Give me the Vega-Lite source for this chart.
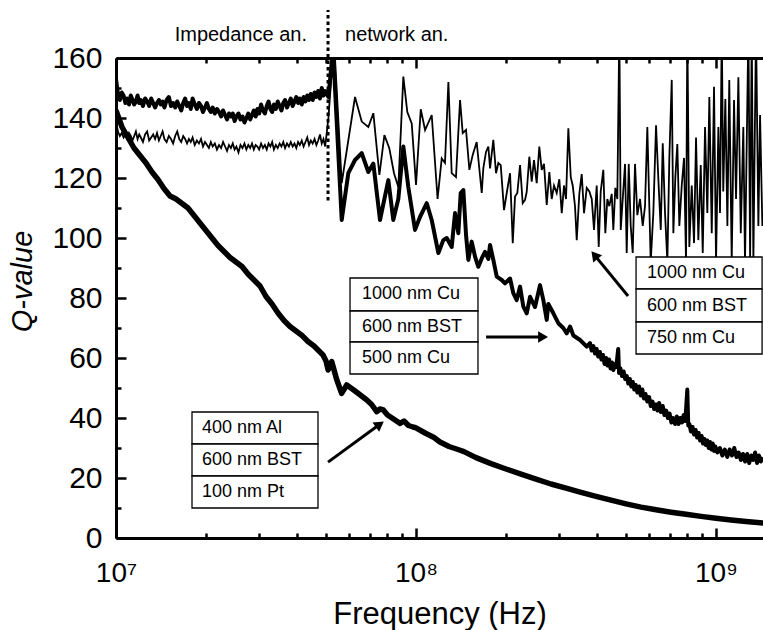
{
  "$schema": "https://vega.github.io/schema/vega-lite/v6.json",
  "width": 647,
  "height": 480,
  "autosize": "none",
  "padding": {"left": 116, "top": 58, "right": 0, "bottom": 92},
  "config": {
    "view": {"stroke": null},
    "font": "Liberation Sans",
    "axis": {"grid": false, "domainColor": "#000", "domainWidth": 3, "tickColor": "#000", "tickWidth": 2.5, "labelColor": "#000", "labelFont": "Liberation Sans", "labelFontWeight": "normal", "titleFont": "Liberation Sans", "titleFontWeight": "normal", "titleColor": "#000", "labelOverlap": false, "labelFlush": false, "labelBound": false}
  },
  "datasets": {
    "A": [
      {"f":1e7,"q":142.5},{"f":1.047e7,"q":137},{"f":1.096e7,"q":133.5},{"f":1.148e7,"q":130},{"f":1.202e7,"q":127.5},{"f":1.259e7,"q":125},{"f":1.318e7,"q":122},{"f":1.380e7,"q":119.5},{"f":1.445e7,"q":116.5},{"f":1.514e7,"q":114},{"f":1.585e7,"q":113},{"f":1.660e7,"q":111.5},{"f":1.738e7,"q":110},{"f":1.820e7,"q":107.5},{"f":1.905e7,"q":105},{"f":1.995e7,"q":102.5},{"f":2.089e7,"q":100},{"f":2.188e7,"q":97.5},{"f":2.291e7,"q":95.5},{"f":2.399e7,"q":93.5},{"f":2.512e7,"q":92},{"f":2.630e7,"q":90.5},{"f":2.754e7,"q":88},{"f":2.884e7,"q":86},{"f":3.020e7,"q":84},{"f":3.162e7,"q":80.5},{"f":3.311e7,"q":78},{"f":3.467e7,"q":75},{"f":3.631e7,"q":72.5},{"f":3.802e7,"q":70.5},{"f":3.981e7,"q":69},{"f":4.169e7,"q":67.5},{"f":4.365e7,"q":65.5},{"f":4.571e7,"q":64},{"f":4.786e7,"q":62},{"f":4.898e7,"q":61},{"f":5.012e7,"q":59},{"f":5.093e7,"q":56},{"f":5.236e7,"q":58.8},{"f":5.433e7,"q":53},{"f":5.649e7,"q":48.2},{"f":5.875e7,"q":51},{"f":6.166e7,"q":49.5},{"f":6.457e7,"q":48},{"f":6.855e7,"q":46},{"f":7.112e7,"q":44.5},{"f":7.396e7,"q":42.1},{"f":7.586e7,"q":43},{"f":7.780e7,"q":42.7},{"f":8.035e7,"q":41},{"f":8.318e7,"q":40},{"f":8.610e7,"q":39},{"f":8.851e7,"q":38.2},{"f":9.120e7,"q":39},{"f":9.441e7,"q":37.5},{"f":9.772e7,"q":37},{"f":1e8,"q":36.7},{"f":1.072e8,"q":35},{"f":1.148e8,"q":33.5},{"f":1.202e8,"q":32},{"f":1.288e8,"q":30.5},{"f":1.380e8,"q":29.5},{"f":1.445e8,"q":28.8},{"f":1.585e8,"q":26.8},{"f":1.778e8,"q":24.8},{"f":1.995e8,"q":23},{"f":2.239e8,"q":21.3},{"f":2.512e8,"q":19.6},{"f":2.818e8,"q":18},{"f":3.162e8,"q":16.6},{"f":3.548e8,"q":15.2},{"f":3.981e8,"q":13.9},{"f":4.467e8,"q":12.6},{"f":5.012e8,"q":11.4},{"f":5.623e8,"q":10.3},{"f":6.310e8,"q":9.4},{"f":7.079e8,"q":8.6},{"f":7.943e8,"q":7.9},{"f":8.913e8,"q":7.2},{"f":1e9,"q":6.6},{"f":1.122e9,"q":6.0},{"f":1.259e9,"q":5.5},{"f":1.445e9,"q":5.0}
    ],
    "B": [
      {"f":1.00e7,"q":153},{"f":1.015e7,"q":148},{"f":1.03e7,"q":146},{"f":1.045e7,"q":148.5},{"f":1.06e7,"q":147.5},{"f":1.075e7,"q":145},{"f":1.09e7,"q":146.5},{"f":1.105e7,"q":144.5},{"f":1.12e7,"q":147.5},{"f":1.135e7,"q":146},{"f":1.15e7,"q":144.5},{"f":1.165e7,"q":145.5},{"f":1.18e7,"q":147.5},{"f":1.195e7,"q":145},{"f":1.21e7,"q":146},{"f":1.23e7,"q":144},{"f":1.25e7,"q":146.5},{"f":1.27e7,"q":145.5},{"f":1.29e7,"q":144},{"f":1.31e7,"q":146.5},{"f":1.33e7,"q":145},{"f":1.35e7,"q":143.5},{"f":1.37e7,"q":145},{"f":1.39e7,"q":146},{"f":1.41e7,"q":144.5},{"f":1.43e7,"q":145.5},{"f":1.45e7,"q":143.5},{"f":1.475e7,"q":146},{"f":1.50e7,"q":147},{"f":1.525e7,"q":144},{"f":1.55e7,"q":145},{"f":1.575e7,"q":143.5},{"f":1.60e7,"q":145.5},{"f":1.625e7,"q":144},{"f":1.65e7,"q":142.5},{"f":1.675e7,"q":145},{"f":1.70e7,"q":146.5},{"f":1.725e7,"q":144},{"f":1.75e7,"q":145},{"f":1.775e7,"q":143},{"f":1.80e7,"q":146.5},{"f":1.83e7,"q":144.5},{"f":1.86e7,"q":143},{"f":1.89e7,"q":145},{"f":1.92e7,"q":144},{"f":1.95e7,"q":142},{"f":1.98e7,"q":143.5},{"f":2.01e7,"q":145},{"f":2.04e7,"q":143},{"f":2.07e7,"q":142},{"f":2.10e7,"q":143.5},{"f":2.135e7,"q":141.5},{"f":2.17e7,"q":143},{"f":2.205e7,"q":142},{"f":2.24e7,"q":140.5},{"f":2.275e7,"q":142.5},{"f":2.31e7,"q":141},{"f":2.345e7,"q":139.5},{"f":2.38e7,"q":141.5},{"f":2.415e7,"q":140.5},{"f":2.45e7,"q":141.5},{"f":2.485e7,"q":139},{"f":2.52e7,"q":140.5},{"f":2.56e7,"q":141.5},{"f":2.60e7,"q":139.5},{"f":2.64e7,"q":140.5},{"f":2.68e7,"q":138.5},{"f":2.72e7,"q":140},{"f":2.76e7,"q":141.5},{"f":2.80e7,"q":139.5},{"f":2.84e7,"q":141},{"f":2.88e7,"q":142.5},{"f":2.92e7,"q":140.5},{"f":2.96e7,"q":143},{"f":3.00e7,"q":141.5},{"f":3.045e7,"q":144.5},{"f":3.09e7,"q":142.5},{"f":3.135e7,"q":141.5},{"f":3.18e7,"q":144},{"f":3.225e7,"q":145.5},{"f":3.27e7,"q":143},{"f":3.315e7,"q":142},{"f":3.36e7,"q":144.5},{"f":3.41e7,"q":143},{"f":3.46e7,"q":145.5},{"f":3.51e7,"q":144},{"f":3.56e7,"q":142.5},{"f":3.61e7,"q":145},{"f":3.66e7,"q":146},{"f":3.715e7,"q":143.5},{"f":3.77e7,"q":145},{"f":3.825e7,"q":146.5},{"f":3.88e7,"q":144},{"f":3.935e7,"q":145.5},{"f":3.99e7,"q":147},{"f":4.045e7,"q":145},{"f":4.10e7,"q":146.5},{"f":4.16e7,"q":144.5},{"f":4.22e7,"q":147},{"f":4.28e7,"q":145.5},{"f":4.34e7,"q":147.5},{"f":4.40e7,"q":146},{"f":4.46e7,"q":148},{"f":4.525e7,"q":146},{"f":4.59e7,"q":148.5},{"f":4.655e7,"q":147},{"f":4.72e7,"q":149},{"f":4.785e7,"q":146.5},{"f":4.85e7,"q":150},{"f":4.915e7,"q":147.5},{"f":4.98e7,"q":149},
      {"f":5.105e7,"q":147},{"f":5.288e7,"q":163},{"f":5.654e7,"q":106},{"f":5.947e7,"q":121.6},{"f":6.261e7,"q":126},{"f":6.592e7,"q":128.3},{"f":6.935e7,"q":122},{"f":7.207e7,"q":124.8},{"f":7.586e7,"q":106},{"f":8.086e7,"q":119.3},{"f":8.40e7,"q":106},{"f":8.73e7,"q":113},{"f":9.072e7,"q":130.5},{"f":9.426e7,"q":117},{"f":9.924e7,"q":102.7},{"f":1.031e8,"q":107},{"f":1.086e8,"q":111.6},{"f":1.128e8,"q":106},{"f":1.187e8,"q":95},{"f":1.233e8,"q":99.3},{"f":1.266e8,"q":100},{"f":1.315e8,"q":97},{"f":1.349e8,"q":108.3},{"f":1.384e8,"q":101.6},{"f":1.409e8,"q":115},{"f":1.438e8,"q":116},{"f":1.468e8,"q":101},{"f":1.494e8,"q":92.7},{"f":1.533e8,"q":98.8},{"f":1.573e8,"q":93.8},{"f":1.613e8,"q":90.4},{"f":1.656e8,"q":93.2},{"f":1.698e8,"q":95.4},{"f":1.742e8,"q":93},{"f":1.765e8,"q":97.7},{"f":1.810e8,"q":92.7},{"f":1.858e8,"q":87.1},{"f":1.931e8,"q":86},{"f":1.980e8,"q":84.9},{"f":2.058e8,"q":86.5},{"f":2.110e8,"q":81.6},{"f":2.166e8,"q":79.3},{"f":2.222e8,"q":83.8},{"f":2.279e8,"q":77.1},{"f":2.339e8,"q":74.9},{"f":2.399e8,"q":80.4},{"f":2.493e8,"q":77},{"f":2.590e8,"q":84.3},{"f":2.657e8,"q":79.3},{"f":2.727e8,"q":72.7},{"f":2.761e8,"q":78},{"f":2.869e8,"q":74.9},{"f":2.981e8,"q":71.6},{"f":3.097e8,"q":70},{"f":3.179e8,"q":68.2},{"f":3.261e8,"q":70.5},{"f":3.345e8,"q":67.5},{"f":3.522e8,"q":66},{"f":3.707e8,"q":63.8},
      {"f":3.80e8,"q":65},{"f":3.85e8,"q":62.5},{"f":3.90e8,"q":64},{"f":3.95e8,"q":61.5},{"f":4.00e8,"q":63},{"f":4.05e8,"q":60.5},{"f":4.10e8,"q":62},{"f":4.15e8,"q":59.5},{"f":4.20e8,"q":61},{"f":4.25e8,"q":58},{"f":4.30e8,"q":60},{"f":4.35e8,"q":57.5},{"f":4.40e8,"q":59.5},{"f":4.45e8,"q":56.5},{"f":4.50e8,"q":58.5},{"f":4.55e8,"q":56},{"f":4.60e8,"q":58},{"f":4.65e8,"q":57},{"f":4.72e8,"q":63},{"f":4.75e8,"q":55},{"f":4.80e8,"q":56.5},{"f":4.86e8,"q":54},{"f":4.92e8,"q":55.5},{"f":4.98e8,"q":53},{"f":5.04e8,"q":54},{"f":5.10e8,"q":51.5},{"f":5.16e8,"q":53},{"f":5.22e8,"q":50.5},{"f":5.28e8,"q":52},{"f":5.34e8,"q":49.5},{"f":5.40e8,"q":51},{"f":5.47e8,"q":48.5},{"f":5.54e8,"q":50.5},{"f":5.61e8,"q":47.5},{"f":5.68e8,"q":49.5},{"f":5.75e8,"q":46.5},{"f":5.82e8,"q":48},{"f":5.90e8,"q":45.5},{"f":5.98e8,"q":47},{"f":6.06e8,"q":44},{"f":6.14e8,"q":45.5},{"f":6.22e8,"q":43},{"f":6.30e8,"q":44.5},{"f":6.38e8,"q":42.5},{"f":6.46e8,"q":45},{"f":6.55e8,"q":42},{"f":6.64e8,"q":44},{"f":6.73e8,"q":41},{"f":6.82e8,"q":42.5},{"f":6.91e8,"q":40},{"f":7.00e8,"q":41.5},{"f":7.10e8,"q":38.5},{"f":7.20e8,"q":40},{"f":7.30e8,"q":38},{"f":7.40e8,"q":40.5},{"f":7.50e8,"q":38},{"f":7.60e8,"q":40},{"f":7.70e8,"q":38.5},{"f":7.80e8,"q":41},{"f":7.90e8,"q":39},{"f":8.02e8,"q":49.5},{"f":8.08e8,"q":37.5},{"f":8.15e8,"q":38},{"f":8.25e8,"q":35.5},{"f":8.35e8,"q":37},{"f":8.45e8,"q":34.5},{"f":8.55e8,"q":36},{"f":8.65e8,"q":33.5},{"f":8.75e8,"q":35},{"f":8.85e8,"q":32.5},{"f":8.95e8,"q":34},{"f":9.05e8,"q":31.5},{"f":9.15e8,"q":33},{"f":9.25e8,"q":31},{"f":9.35e8,"q":32.5},{"f":9.45e8,"q":30},{"f":9.55e8,"q":32},{"f":9.65e8,"q":29.5},{"f":9.75e8,"q":31.5},{"f":9.85e8,"q":29},{"f":9.95e8,"q":30.5},{"f":1.01e9,"q":28.5},{"f":1.03e9,"q":30},{"f":1.05e9,"q":27.5},{"f":1.07e9,"q":29.5},{"f":1.09e9,"q":27},{"f":1.11e9,"q":29.5},{"f":1.13e9,"q":27.5},{"f":1.15e9,"q":30},{"f":1.17e9,"q":27},{"f":1.19e9,"q":28.5},{"f":1.21e9,"q":26},{"f":1.23e9,"q":28},{"f":1.25e9,"q":25.5},{"f":1.27e9,"q":28},{"f":1.29e9,"q":25},{"f":1.31e9,"q":27.5},{"f":1.33e9,"q":26},{"f":1.35e9,"q":28.5},{"f":1.37e9,"q":25},{"f":1.39e9,"q":27.5},{"f":1.41e9,"q":25.5},{"f":1.43e9,"q":27}
    ],
    "C": [
      {"f":1.00e7,"q":139},{"f":1.015e7,"q":135.5},{"f":1.03e7,"q":134},{"f":1.045e7,"q":135},{"f":1.06e7,"q":133.5},{"f":1.075e7,"q":134.5},{"f":1.09e7,"q":133},{"f":1.105e7,"q":135},{"f":1.12e7,"q":134},{"f":1.135e7,"q":132.5},{"f":1.15e7,"q":134},{"f":1.165e7,"q":135.5},{"f":1.18e7,"q":133},{"f":1.195e7,"q":134.5},{"f":1.21e7,"q":133.5},{"f":1.23e7,"q":132},{"f":1.25e7,"q":134.5},{"f":1.27e7,"q":135.5},{"f":1.29e7,"q":132.5},{"f":1.31e7,"q":133.5},{"f":1.33e7,"q":134.5},{"f":1.35e7,"q":133},{"f":1.37e7,"q":135},{"f":1.39e7,"q":132.5},{"f":1.41e7,"q":134},{"f":1.43e7,"q":135.5},{"f":1.45e7,"q":133},{"f":1.475e7,"q":132},{"f":1.50e7,"q":134},{"f":1.525e7,"q":133},{"f":1.55e7,"q":131.5},{"f":1.575e7,"q":134},{"f":1.60e7,"q":135.5},{"f":1.625e7,"q":133},{"f":1.65e7,"q":132},{"f":1.675e7,"q":134},{"f":1.70e7,"q":133},{"f":1.725e7,"q":131.5},{"f":1.75e7,"q":133},{"f":1.775e7,"q":132},{"f":1.80e7,"q":133.5},{"f":1.83e7,"q":131},{"f":1.86e7,"q":132.5},{"f":1.89e7,"q":131.5},{"f":1.92e7,"q":133},{"f":1.95e7,"q":130.5},{"f":1.98e7,"q":132},{"f":2.01e7,"q":131},{"f":2.04e7,"q":130},{"f":2.07e7,"q":132},{"f":2.10e7,"q":130.5},{"f":2.135e7,"q":131.5},{"f":2.17e7,"q":129.5},{"f":2.205e7,"q":131},{"f":2.24e7,"q":130},{"f":2.275e7,"q":132},{"f":2.31e7,"q":130.5},{"f":2.345e7,"q":129},{"f":2.38e7,"q":131},{"f":2.415e7,"q":130},{"f":2.45e7,"q":131.5},{"f":2.485e7,"q":129.5},{"f":2.52e7,"q":130.5},{"f":2.56e7,"q":128.5},{"f":2.60e7,"q":131},{"f":2.64e7,"q":130},{"f":2.68e7,"q":131.5},{"f":2.72e7,"q":129.5},{"f":2.76e7,"q":131},{"f":2.80e7,"q":130},{"f":2.84e7,"q":131.5},{"f":2.88e7,"q":129.5},{"f":2.92e7,"q":131},{"f":2.96e7,"q":130.5},{"f":3.00e7,"q":129.5},{"f":3.045e7,"q":131.5},{"f":3.09e7,"q":130},{"f":3.135e7,"q":131},{"f":3.18e7,"q":129.5},{"f":3.225e7,"q":131.5},{"f":3.27e7,"q":130.5},{"f":3.315e7,"q":132},{"f":3.36e7,"q":129.5},{"f":3.41e7,"q":131},{"f":3.46e7,"q":130},{"f":3.51e7,"q":131.5},{"f":3.56e7,"q":130.5},{"f":3.61e7,"q":132},{"f":3.66e7,"q":130},{"f":3.715e7,"q":131.5},{"f":3.77e7,"q":130.5},{"f":3.825e7,"q":132},{"f":3.88e7,"q":130.5},{"f":3.935e7,"q":131.5},{"f":3.99e7,"q":130},{"f":4.045e7,"q":132},{"f":4.10e7,"q":131},{"f":4.16e7,"q":132.5},{"f":4.22e7,"q":130.5},{"f":4.28e7,"q":132},{"f":4.34e7,"q":133.5},{"f":4.40e7,"q":131},{"f":4.46e7,"q":132.5},{"f":4.525e7,"q":131.5},{"f":4.59e7,"q":133},{"f":4.655e7,"q":131},{"f":4.72e7,"q":132.5},{"f":4.785e7,"q":134.5},{"f":4.85e7,"q":131.5},{"f":4.915e7,"q":133},{"f":4.98e7,"q":130.5},
      {"f":5.105e7,"q":140},{"f":5.33e7,"q":166},{"f":5.654e7,"q":118.3},{"f":6.261e7,"q":147},{"f":6.592e7,"q":138.8},{"f":6.935e7,"q":137},{"f":7.207e7,"q":141.6},{"f":7.55e7,"q":121},{"f":7.845e7,"q":134.3},{"f":8.147e7,"q":129.9},{"f":8.446e7,"q":121.6},{"f":8.73e7,"q":117},{"f":9.072e7,"q":153.8},{"f":9.354e7,"q":142},{"f":9.676e7,"q":138.2},{"f":1.0e8,"q":117.7},{"f":1.037e8,"q":142.9},{"f":1.072e8,"q":136},{"f":1.128e8,"q":141},{"f":1.180e8,"q":113},{"f":1.218e8,"q":126.5},{"f":1.249e8,"q":125},{"f":1.282e8,"q":152},{"f":1.315e8,"q":121.6},{"f":1.359e8,"q":120.3},{"f":1.402e8,"q":146},{"f":1.431e8,"q":135},{"f":1.468e8,"q":136},{"f":1.506e8,"q":122.7},{"f":1.545e8,"q":127.7},{"f":1.593e8,"q":132},{"f":1.656e8,"q":115},{"f":1.676e8,"q":123.2},{"f":1.711e8,"q":128.7},{"f":1.742e8,"q":130.5},{"f":1.765e8,"q":123.2},{"f":1.810e8,"q":132.7},{"f":1.848e8,"q":121.6},{"f":1.881e8,"q":125},{"f":1.916e8,"q":124.3},{"f":1.965e8,"q":109.3},{"f":2.006e8,"q":115},{"f":2.058e8,"q":121.6},{"f":2.101e8,"q":98.3},{"f":2.138e8,"q":113.8},{"f":2.176e8,"q":115},{"f":2.222e8,"q":124.3},{"f":2.268e8,"q":111.6},{"f":2.309e8,"q":112.7},{"f":2.339e8,"q":115.4},{"f":2.386e8,"q":127.1},{"f":2.430e8,"q":118.8},{"f":2.473e8,"q":126},{"f":2.525e8,"q":118.3},{"f":2.576e8,"q":130.5},{"f":2.624e8,"q":122.7},{"f":2.671e8,"q":124.7},{"f":2.727e8,"q":111},{"f":2.782e8,"q":122},{"f":2.833e8,"q":113},{"f":2.884e8,"q":117.5},{"f":2.944e8,"q":115},{"f":3.004e8,"q":119.6},{"f":3.060e8,"q":108.3},{"f":3.114e8,"q":117.5},{"f":3.162e8,"q":113},{"f":3.219e8,"q":136.6},{"f":3.279e8,"q":120.3},{"f":3.329e8,"q":117.5},{"f":3.388e8,"q":110.6},{"f":3.433e8,"q":99.3},{"f":3.502e8,"q":114.7},{"f":3.567e8,"q":121.3},{"f":3.631e8,"q":108.3},{"f":3.707e8,"q":116.7},{"f":3.782e8,"q":115.5},{"f":3.852e8,"q":113},{"f":3.920e8,"q":102.7},{"f":4.002e8,"q":117.5},{"f":4.064e8,"q":97},{"f":4.127e8,"q":115.5},{"f":4.210e8,"q":122.7},{"f":4.276e8,"q":101.6},{"f":4.342e8,"q":113},{"f":4.409e8,"q":110.6},{"f":4.491e8,"q":114.7},{"f":4.546e8,"q":102.7},{"f":4.616e8,"q":116.7},{"f":4.688e8,"q":113},{"f":4.761e8,"q":170},{"f":4.812e8,"q":102.7},{"f":4.887e8,"q":113},{"f":4.974e8,"q":124.7},{"f":5.038e8,"q":95},{"f":5.117e8,"q":124.7},{"f":5.196e8,"q":104},{"f":5.276e8,"q":95},{"f":5.370e8,"q":124.7},{"f":5.466e8,"q":107.6},{"f":5.580e8,"q":113},{"f":5.697e8,"q":104},{"f":5.798e8,"q":110.6},{"f":5.902e8,"q":137},{"f":5.993e8,"q":110.6},{"f":6.057e8,"q":92},{"f":6.180e8,"q":108.3},{"f":6.310e8,"q":137.6},{"f":6.423e8,"q":119.6},{"f":6.543e8,"q":102.7},{"f":6.643e8,"q":131.6},{"f":6.761e8,"q":108.3},{"f":6.883e8,"q":92},{"f":6.988e8,"q":126.7},{"f":7.118e8,"q":152.7},{"f":7.207e8,"q":101.6},{"f":7.318e8,"q":120.3},{"f":7.430e8,"q":131.3},{"f":7.546e8,"q":104},{"f":7.686e8,"q":117.5},{"f":7.822e8,"q":126.7},{"f":7.943e8,"q":92},{"f":8.022e8,"q":170},{"f":8.147e8,"q":97},{"f":8.299e8,"q":117.5},{"f":8.447e8,"q":98.3},{"f":8.577e8,"q":133.5},{"f":8.730e8,"q":99.3},{"f":8.892e8,"q":124.3},{"f":9.030e8,"q":95},{"f":9.191e8,"q":137},{"f":9.354e8,"q":108.3},{"f":9.500e8,"q":147},{"f":9.676e8,"q":101.6},{"f":9.847e8,"q":150.4},{"f":1.0e9,"q":92},{"f":1.018e9,"q":137},{"f":1.031e9,"q":108.3},{"f":1.045e9,"q":170},{"f":1.057e9,"q":115.5},{"f":1.074e9,"q":146.3},{"f":1.091e9,"q":104},{"f":1.107e9,"q":152.7},{"f":1.128e9,"q":92},{"f":1.148e9,"q":146},{"f":1.166e9,"q":113},{"f":1.187e9,"q":153.6},{"f":1.209e9,"q":101.6},{"f":1.233e9,"q":137},{"f":1.249e9,"q":92},{"f":1.282e9,"q":170},{"f":1.299e9,"q":92},{"f":1.315e9,"q":170},{"f":1.332e9,"q":92},{"f":1.359e9,"q":170},{"f":1.384e9,"q":104},{"f":1.402e9,"q":141},{"f":1.427e9,"q":104}
    ],
    "boxes": [
      {"f1":1.792e7,"f2":4.713e7,"ft":1.935e7,"q1":42,"q2":31.33,"qm":36.67,"label":"400 nm Al"},
      {"f1":1.792e7,"f2":4.713e7,"ft":1.935e7,"q1":31.33,"q2":20.67,"qm":26,"label":"600 nm BST"},
      {"f1":1.792e7,"f2":4.713e7,"ft":1.935e7,"q1":20.67,"q2":10,"qm":15.33,"label":"100 nm Pt"},
      {"f1":6.026e7,"f2":1.609e8,"ft":6.607e7,"q1":86.67,"q2":75.67,"qm":81.17,"label":"1000 nm Cu"},
      {"f1":6.026e7,"f2":1.609e8,"ft":6.607e7,"q1":75.67,"q2":65.33,"qm":70.5,"label":"600 nm BST"},
      {"f1":6.026e7,"f2":1.609e8,"ft":6.607e7,"q1":65.33,"q2":54.67,"qm":60,"label":"500 nm Cu"},
      {"f1":5.413e8,"f2":1.424e9,"ft":5.888e8,"q1":93.67,"q2":83,"qm":88.33,"label":"1000 nm Cu"},
      {"f1":5.413e8,"f2":1.424e9,"ft":5.888e8,"q1":83,"q2":72,"qm":77.5,"label":"600 nm BST"},
      {"f1":5.413e8,"f2":1.424e9,"ft":5.888e8,"q1":72,"q2":61.33,"qm":66.67,"label":"750 nm Cu"}
    ],
    "arrows": [
      {"id":1,"f1":5.09e7,"q1":25.3,"f2":7.574e7,"q2":37.9},
      {"id":2,"f1":1.712e8,"q1":67,"f2":2.651e8,"q2":67},
      {"id":3,"f1":5.09e8,"q1":80.67,"f2":3.936e8,"q2":94.3}
    ],
    "divider": [{"f":5.09e7,"lo":112.5,"hi":176}],
    "notes": [
      {"f":4.331e7,"q":165.8,"label":"Impedance an.","side":"left"},
      {"f":5.8e7,"q":165.8,"label":"network an.","side":"right"}
    ]
  },
  "layer": [
    {
      "data": {"name": "A"},
      "mark": {"type": "line", "color": "#000", "strokeWidth": 5.5, "strokeJoin": "round", "clip": true},
      "encoding": {
        "x": {"field": "f", "type": "quantitative", "scale": {"type": "log", "domain": [10000000, 1434000000], "nice": false},
          "axis": {"orient": "bottom", "values": [10000000,20000000,30000000,40000000,50000000,60000000,70000000,80000000,90000000,100000000,200000000,300000000,400000000,500000000,600000000,700000000,800000000,900000000,1000000000],
            "tickSize": {"condition": {"test": "indexof([10000000,100000000,1000000000], datum.value) >= 0", "value": -10}, "value": -5},
            "labelExpr": "datum.value === 10000000 ? '10\u2077' : datum.value === 100000000 ? '10\u2078' : datum.value === 1000000000 ? '10\u2079' : ''",
            "labelFontSize": 28, "labelPadding": 31, "title": "Frequency (Hz)", "titleFontSize": 31, "titlePadding": 7}},
        "y": {"field": "q", "type": "quantitative", "scale": {"domain": [0, 160], "nice": false},
          "axis": {"orient": "left", "values": [0,10,20,30,40,50,60,70,80,90,100,110,120,130,140,150,160],
            "tickSize": {"condition": {"test": "datum.value % 20 === 0", "value": -10}, "value": -5},
            "labelExpr": "datum.value % 20 === 0 ? datum.label : ''",
            "labelFontSize": 30, "labelFontWeight": "normal", "labelPadding": 24, "title": "Q-value", "titleFontSize": 29, "titleFontStyle": "italic", "titlePadding": 14, "titleY": 223}}
      }
    },
    {
      "data": {"name": "B"},
      "mark": {"type": "line", "color": "#000", "strokeWidth": 4, "strokeJoin": "round", "clip": true},
      "encoding": {
        "x": {"field": "f", "type": "quantitative", "scale": {"type": "log", "domain": [10000000, 1434000000], "nice": false},
          "axis": {"orient": "top", "values": [10000000,20000000,30000000,40000000,50000000,60000000,70000000,80000000,90000000,100000000,200000000,300000000,400000000,500000000,600000000,700000000,800000000,900000000,1000000000],
            "tickSize": {"condition": {"test": "indexof([10000000,100000000,1000000000], datum.value) >= 0", "value": -10}, "value": -5},
            "labels": false, "title": null}},
        "y": {"field": "q", "type": "quantitative", "scale": {"domain": [0, 160], "nice": false}, "axis": null}
      }
    },
    {
      "data": {"name": "C"},
      "mark": {"type": "line", "color": "#000", "strokeWidth": 1.8, "clip": true},
      "encoding": {
        "x": {"field": "f", "type": "quantitative", "scale": {"type": "log"}, "axis": null},
        "y": {"field": "q", "type": "quantitative", "axis": null}
      }
    },
    {
      "data": {"name": "boxes"},
      "mark": {"type": "rect", "fill": "#fff", "stroke": "#000", "strokeWidth": 1.3},
      "encoding": {
        "x": {"field": "f1", "type": "quantitative", "scale": {"type": "log"}, "axis": null},
        "x2": {"field": "f2"},
        "y": {"field": "q1", "type": "quantitative", "axis": null},
        "y2": {"field": "q2"}
      }
    },
    {
      "data": {"name": "boxes"},
      "mark": {"type": "text", "align": "left", "baseline": "middle", "fontSize": 18, "font": "Liberation Sans", "color": "#000"},
      "encoding": {
        "x": {"field": "ft", "type": "quantitative", "scale": {"type": "log"}, "axis": null},
        "y": {"field": "qm", "type": "quantitative", "axis": null},
        "text": {"field": "label"}
      }
    },
    {
      "data": {"name": "arrows"},
      "mark": {"type": "rule", "color": "#000", "strokeWidth": 3},
      "encoding": {
        "x": {"field": "f1", "type": "quantitative", "scale": {"type": "log"}, "axis": null},
        "y": {"field": "q1", "type": "quantitative", "axis": null},
        "x2": {"field": "f2"},
        "y2": {"field": "q2"}
      }
    },
    {
      "data": {"name": "arrows"},
      "transform": [{"filter": "datum.id === 1"}],
      "mark": {"type": "point", "shape": "triangle-up", "filled": true, "color": "#000", "opacity": 1, "size": 130, "angle": 54},
      "encoding": {
        "x": {"field": "f2", "type": "quantitative", "scale": {"type": "log"}, "axis": null},
        "y": {"field": "q2", "type": "quantitative", "axis": null}
      }
    },
    {
      "data": {"name": "arrows"},
      "transform": [{"filter": "datum.id === 2"}],
      "mark": {"type": "point", "shape": "triangle-up", "filled": true, "color": "#000", "opacity": 1, "size": 130, "angle": 90},
      "encoding": {
        "x": {"field": "f2", "type": "quantitative", "scale": {"type": "log"}, "axis": null},
        "y": {"field": "q2", "type": "quantitative", "axis": null}
      }
    },
    {
      "data": {"name": "arrows"},
      "transform": [{"filter": "datum.id === 3"}],
      "mark": {"type": "point", "shape": "triangle-up", "filled": true, "color": "#000", "opacity": 1, "size": 130, "angle": 321},
      "encoding": {
        "x": {"field": "f2", "type": "quantitative", "scale": {"type": "log"}, "axis": null},
        "y": {"field": "q2", "type": "quantitative", "axis": null}
      }
    },
    {
      "data": {"name": "divider"},
      "mark": {"type": "rule", "color": "#000", "strokeWidth": 3, "strokeDash": [3.5, 3]},
      "encoding": {
        "x": {"field": "f", "type": "quantitative", "scale": {"type": "log"}, "axis": null},
        "y": {"field": "lo", "type": "quantitative", "axis": null},
        "y2": {"field": "hi"}
      }
    },
    {
      "data": {"name": "notes"},
      "transform": [{"filter": "datum.side === 'left'"}],
      "mark": {"type": "text", "align": "right", "baseline": "alphabetic", "fontSize": 20, "font": "Liberation Sans", "color": "#000"},
      "encoding": {
        "x": {"field": "f", "type": "quantitative", "scale": {"type": "log"}, "axis": null},
        "y": {"field": "q", "type": "quantitative", "axis": null},
        "text": {"field": "label"}
      }
    },
    {
      "data": {"name": "notes"},
      "transform": [{"filter": "datum.side === 'right'"}],
      "mark": {"type": "text", "align": "left", "baseline": "alphabetic", "fontSize": 20, "font": "Liberation Sans", "color": "#000"},
      "encoding": {
        "x": {"field": "f", "type": "quantitative", "scale": {"type": "log"}, "axis": null},
        "y": {"field": "q", "type": "quantitative", "axis": null},
        "text": {"field": "label"}
      }
    }
  ],
  "resolve": {"axis": {"x": "independent", "y": "independent"}}
}
